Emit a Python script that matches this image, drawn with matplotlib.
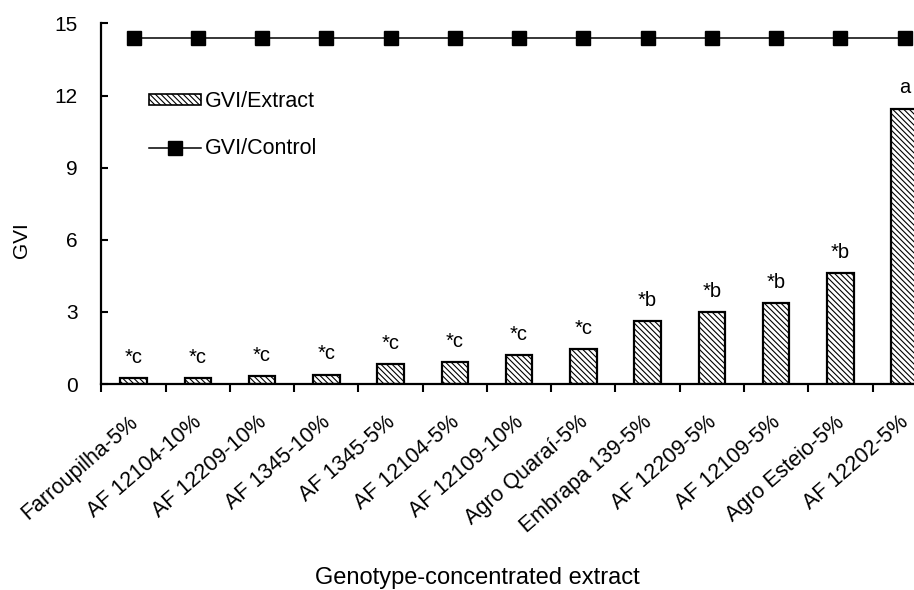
import numpy as np
import matplotlib
matplotlib.use("Agg")
from matplotlib import pyplot as plt
from matplotlib import transforms
from matplotlib.patches import Patch
from matplotlib.lines import Line2D

plt.rcParams['font.family'] = ['Liberation Sans', 'DejaVu Sans']
plt.rcParams['hatch.linewidth'] = 0.8

genotypes = ['Farroupilha-5%', 'AF 12104-10%', 'AF 12209-10%', 'AF 1345-10%',
             'AF 1345-5%', 'AF 12104-5%', 'AF 12109-10%', 'Agro Quaraí-5%',
             'Embrapa 139-5%', 'AF 12209-5%', 'AF 12109-5%', 'Agro Esteio-5%',
             'AF 12202-5%']
gvi_extract = [0.26, 0.26, 0.33, 0.39, 0.82, 0.92, 1.20, 1.46,
               2.63, 2.99, 3.36, 4.60, 11.45]
gvi_control = [14.4] * 13
letters = ['*c', '*c', '*c', '*c', '*c', '*c', '*c', '*c',
           '*b', '*b', '*b', '*b', 'a']


def main():
    fig = plt.figure(figsize=(9.14, 5.90), dpi=100)
    # axes run past the right edge, as in the original (last bar is cut)
    ax = fig.add_axes([0.111, 0.349, 0.9139, 0.6114])

    x = np.arange(len(genotypes))
    ax.bar(x, gvi_extract, width=0.41, color='white', edgecolor='black',
           linewidth=1.6, hatch='\\\\\\\\\\\\', zorder=2)
    ax.plot(x, gvi_control, color='black', lw=1.1, marker='s', markersize=10,
            zorder=3)

    for xi, v, t in zip(x, gvi_extract, letters):
        ax.annotate(t, (xi, v), xytext=(0, 11), textcoords='offset points',
                    ha='center', va='baseline', fontsize=14.5)

    ax.set_xlim(-0.5, 12.5)
    ax.set_ylim(0, 15)
    ax.set_yticks([0, 3, 6, 9, 12, 15])
    ax.set_xticks(x)
    ax.set_xticklabels(genotypes, rotation=41, ha='right', va='top',
                       rotation_mode='anchor', fontsize=15.5)
    ax.set_xticks(np.arange(-0.5, 13, 1), minor=True)
    ax.tick_params(axis='x', which='major', length=0, pad=20)
    ax.tick_params(axis='x', which='minor', length=6, width=1.5,
                   direction='out')
    ax.tick_params(axis='y', length=5, width=1.5, direction='in', pad=17,
                   labelsize=15)

    # nudge the slanted labels a little left so the last one stays inside
    shift = transforms.ScaledTranslation(-4 / 72, 0, fig.dpi_scale_trans)
    for lab in ax.get_xticklabels():
        lab.set_transform(lab.get_transform() + shift)

    for s in ['top', 'right']:
        ax.spines[s].set_visible(False)
    for s in ['left', 'bottom']:
        ax.spines[s].set_linewidth(1.6)

    fig.text(22 / 914, 1 - 240 / 590, 'GVI', rotation=90, ha='center',
             va='center', fontsize=15)
    fig.text(0.5225, 0.021, 'Genotype-concentrated extract', ha='center',
             va='center', fontsize=17)

    handles = [Patch(facecolor='white', edgecolor='black', linewidth=1.2,
                     hatch='\\\\\\\\\\\\'),
               Line2D([], [], color='black', lw=1.1, marker='s', markersize=10)]
    ax.legend(handles, ['GVI/Extract', 'GVI/Control'], loc='upper left',
              bbox_to_anchor=(0.034, 0.865), frameon=False, fontsize=15.5,
              handlelength=2.4, handleheight=0.4, handletextpad=0.2,
              labelspacing=1.2)

    fig.savefig('out.png', dpi=100)


if __name__ == "__main__":
    main()
